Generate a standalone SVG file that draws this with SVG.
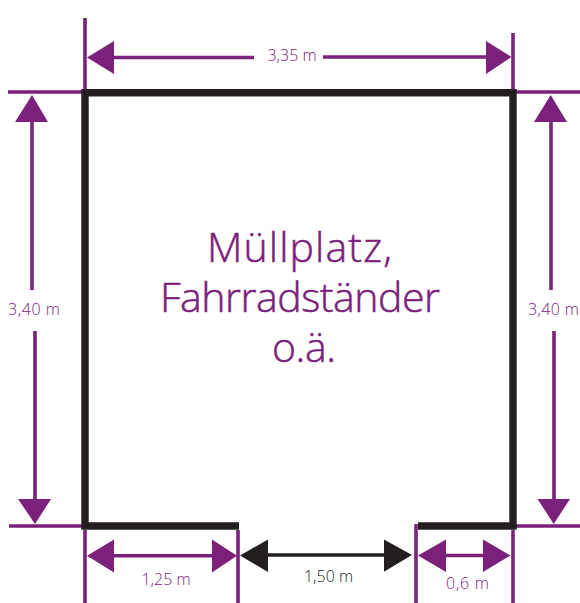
<svg xmlns="http://www.w3.org/2000/svg" width="580" height="603" viewBox="0 0 580 603">
<style>
.p{stroke:#7b217c;stroke-width:3.6;fill:none}
.k{stroke:#231f20;stroke-width:3.6;fill:none}
.pf{fill:#7b217c}
.kf{fill:#231f20}
.wall{stroke:#231f20;stroke-width:7.4;fill:none;stroke-linejoin:miter}
text{font-family:"Open Sans","Noto Sans",sans-serif;font-weight:300;text-anchor:middle}
.s{font-size:16px;fill:#7b217c}
.b{font-size:41px;fill:#7b217c;stroke:#7b217c;stroke-width:.5}
</style>
<rect width="580" height="603" fill="#fff"/>
<g id="connectors">
<path class="p" d="M85 18V89M513 33V89M8 92H82M516 92H580M9 526H82M516 526H580M85 530V603M238 530V603M416 524V603M513 530V603"/>
<path class="p" d="M114 57.5H254M323 57H486"/>
<path class="pf" d="M87 57.5L114 41V74ZM511.5 57L486 41V74Z"/>
<path class="p" d="M32 122V290M35 331V499"/>
<path class="pf" d="M32 95L48 122H15ZM35 524L18 499H51Z"/>
<path class="p" d="M551 122V290M554 331V499"/>
<path class="pf" d="M550.7 95L567 122H534ZM553.7 524L537.5 499H570Z"/>
<path class="p" d="M114 555.7H212"/>
<path class="pf" d="M87 555.7L114 539.5V572.5ZM237 555.7L212 539.5V572.5Z"/>
<path class="k" d="M267 555H385"/>
<path class="kf" d="M240 555.5L268 539.5V572ZM412 555L384 539.5V571.7Z"/>
<path class="p" d="M446 555.5H483"/>
<path class="pf" d="M418 555.5L446 539.5V572ZM510.5 555.5L483 539.5V572Z"/>
</g>
<g id="room">
<path class="wall" d="M239 526H85V92.7H513V526H418"/>
<text class="b" x="299.5" y="262" textLength="185">Müllplatz,</text>
<text class="b" x="300" y="312" textLength="280">Fahrradständer</text>
<text class="b" x="304" y="362" textLength="64">o.ä.</text>
</g>
<g id="labels">
<text class="s" x="292" y="61">3,35 m</text>
<text class="s" x="34" y="315" textLength="52">3,40 m</text>
<text class="s" x="553.5" y="315" textLength="51">3,40 m</text>
<text class="s" x="166" y="585">1,25 m</text>
<text class="s" x="328.5" y="582" style="fill:#231f20">1,50 m</text>
<text class="s" x="467.5" y="589" textLength="43">0,6 m</text>
</g>
</svg>
